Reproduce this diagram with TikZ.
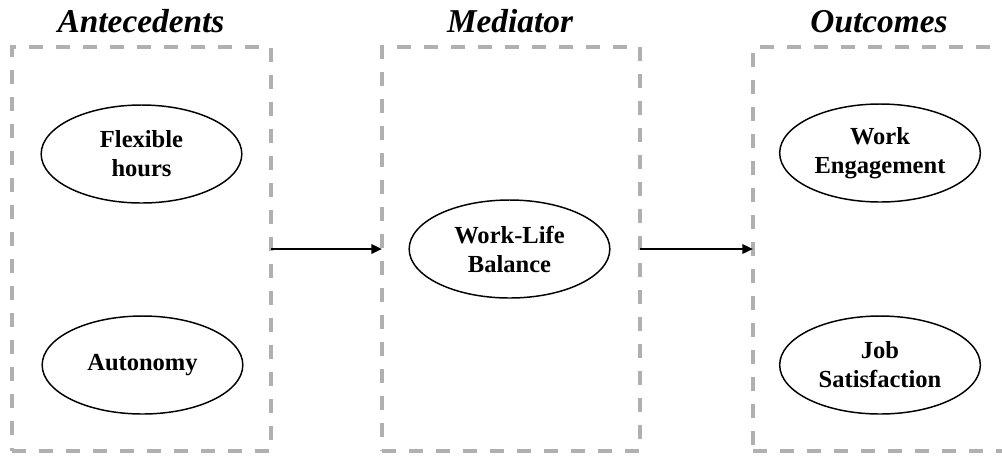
\documentclass[tikz,border=0pt]{standalone}
\usepackage{fontspec}
\setmainfont{Liberation Serif}
\usetikzlibrary{arrows.meta,shapes.geometric}
\definecolor{framegray}{RGB}{178,175,175}
\begin{document}
\begin{tikzpicture}[x=0.75pt,y=-0.75pt,
  group/.style={draw=framegray, line width=3pt, dash pattern=on 10.5pt off 9.75pt,
    minimum height=303pt, inner sep=0pt, outer sep=0pt},
  construct/.style={ellipse, draw, line width=1.1pt, minimum width=150.5pt,
    minimum height=73.5pt, inner sep=0pt, align=center,
    font=\bfseries\fontsize{18.4}{21.75}\selectfont},
  heading/.style={anchor=base, font=\bfseries\itshape\fontsize{25}{30}\selectfont},
  link/.style={-{Triangle[length=8pt,width=7pt]}, line width=1.8pt}]
\clip (0,0) rectangle (1002,455);
\useasboundingbox (0,0) rectangle (1002,455);

% dashed group frames
\node[group, minimum width=194.25pt] (ante) at (141.5,249) {};
\node[group, minimum width=193.5pt]  (med)  at (511,249) {};
\node[group, minimum width=190.5pt]  (out)  at (880,249) {};

% group headings
\node[heading] (hante) at (141,32) {Antecedents};
\node[heading] (hmed)  at (510,32) {Mediator};
\node[heading] (hout)  at (879,32) {Outcomes};

% constructs
\node[construct] (flex) at (141.5,154) {Flexible\\hours};
\node[construct] (auto) at (142.5,365) {Autonomy};
\node[construct] (wlb)  at (509.5,249) {Work-Life\\Balance};
\node[construct] (eng)  at (880,153) {Work\\Engagement};
\node[construct] (sat)  at (880,365) {Job\\Satisfaction};

% paths between groups
\draw[link] (ante.east) -- (med.west);
\draw[link] (med.east) -- (out.west);
\end{tikzpicture}
\end{document}
